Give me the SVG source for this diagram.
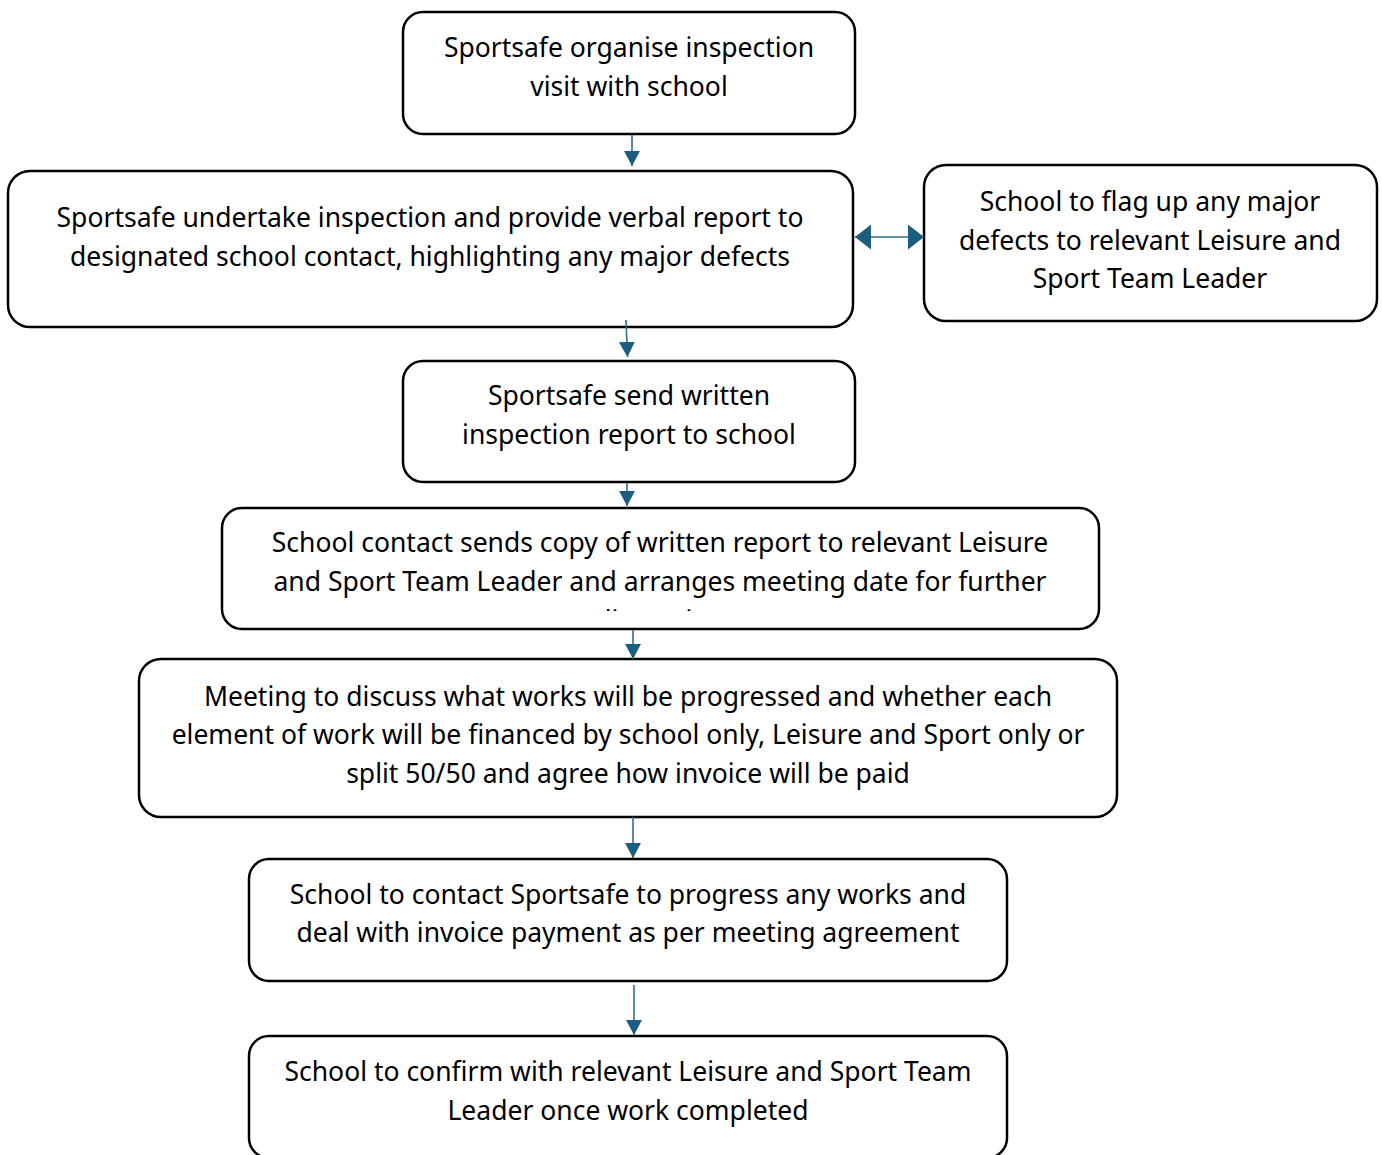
<svg xmlns="http://www.w3.org/2000/svg" width="1382" height="1155" viewBox="0 0 1382 1155">
<style>
.box{fill:#fff;stroke:#000;stroke-width:2.5}
text{font-family:"Noto Sans","Liberation Sans",sans-serif;font-size:26.5px;fill:#000;text-anchor:middle;dominant-baseline:central}
.c{stroke:#2e6f8e;stroke-width:1.6;fill:none}
</style>
<defs>
<marker id="ah2" viewBox="0 0 15 16" refX="15" refY="8" markerWidth="15" markerHeight="16" markerUnits="userSpaceOnUse" orient="auto-start-reverse"><path d="M0,0 L15,8 L0,16 z" fill="#1b5e80"/></marker>
<marker id="ah3" viewBox="0 0 16 25" refX="16" refY="12.5" markerWidth="16" markerHeight="25" markerUnits="userSpaceOnUse" orient="auto-start-reverse"><path d="M0,0 L16,12.5 L0,25 z" fill="#1b5e80"/></marker>
<clipPath id="clip5"><rect x="222" y="508" width="877" height="103"/></clipPath>
</defs>
<g id="n1"><rect class="box" x="403" y="12" width="452" height="122" rx="20"/><text x="629" y="47">Sportsafe organise inspection</text><text x="629" y="86">visit with school</text></g>
<g id="n2"><rect class="box" x="8" y="171" width="845" height="156" rx="22"/><text x="430" y="217">Sportsafe undertake inspection and provide verbal report to</text><text x="430" y="256">designated school contact, highlighting any major defects</text></g>
<g id="n3"><rect class="box" x="924" y="165" width="453" height="156" rx="22"/><text x="1150" y="201">School to flag up any major</text><text x="1150" y="240">defects to relevant Leisure and</text><text x="1150" y="278">Sport Team Leader</text></g>
<g id="n4"><rect class="box" x="403" y="361" width="452" height="121" rx="20"/><text x="629" y="395">Sportsafe send written</text><text x="629" y="434">inspection report to school</text></g>
<g id="n5"><rect class="box" x="222" y="508" width="877" height="121" rx="20"/><text x="660" y="542">School contact sends copy of written report to relevant Leisure</text><text x="660" y="581">and Sport Team Leader and arranges meeting date for further</text><text x="660" y="620" clip-path="url(#clip5)">discussion</text></g>
<g id="n6"><rect class="box" x="139" y="659" width="978" height="158" rx="22"/><text x="628" y="696">Meeting to discuss what works will be progressed and whether each</text><text x="628" y="734">element of work will be financed by school only, Leisure and Sport only or</text><text x="628" y="773">split 50/50 and agree how invoice will be paid</text></g>
<g id="n7"><rect class="box" x="249" y="859" width="758" height="122" rx="20"/><text x="628" y="894">School to contact Sportsafe to progress any works and</text><text x="628" y="932">deal with invoice payment as per meeting agreement</text></g>
<g id="n8"><rect class="box" x="249" y="1036" width="758" height="122" rx="20"/><text x="628" y="1071">School to confirm with relevant Leisure and Sport Team</text><text x="628" y="1110">Leader once work completed</text></g>
<g id="connectors">
<line class="c" x1="632" y1="135" x2="632" y2="166" marker-end="url(#ah2)"/>
<line class="c" x1="626" y1="320" x2="627.5" y2="357" marker-end="url(#ah2)"/>
<line class="c" x1="627" y1="483" x2="627" y2="506" marker-end="url(#ah2)"/>
<line class="c" x1="633" y1="630" x2="633" y2="659" marker-end="url(#ah2)"/>
<line class="c" x1="633" y1="817" x2="633" y2="858" marker-end="url(#ah2)"/>
<line class="c" x1="634" y1="985" x2="634" y2="1035" marker-end="url(#ah2)"/>
<line class="c" x1="855" y1="237" x2="924" y2="237" marker-start="url(#ah3)" marker-end="url(#ah3)"/>
</g>
</svg>
